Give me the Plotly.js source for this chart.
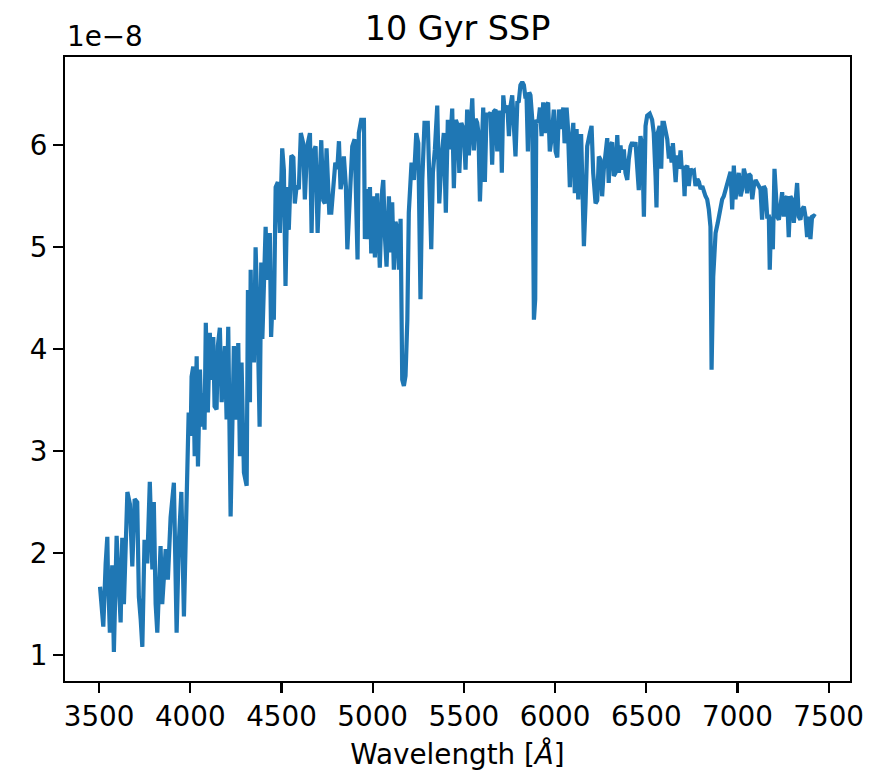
<!DOCTYPE html>
<html>
<head>
<meta charset="utf-8">
<script src="https://cdn.plot.ly/plotly-3.0.1.min.js"></script>
<style>html,body{margin:0;padding:0;background:#fff;}#chart{width:881px;height:771px;}</style>
</head>
<body>
<div id="chart"></div>
<script>
// Wavelength in Angstrom
const wavelength = [
3505,3523,3536,3545,3548,3559,3572,3581,3596,3609,3618,3627,3636,3655,3669,3682,3695,3709,3718,3728,3737,3749,3764,3778,3792,3800,3810,3819,3837,3846,3865,3877,3892,3910,3925,3937,3951,3965,3980,
3991,4002,4007,4016,4024,4035,4042,4053,4062,4069,4078,4085,4096,4107,4115,4126,4133,4144,4151,4162,4172,4181,4190,4199,4208,4221,4230,4239,4252,4263,4272,4281,4294,4309,4316,
4327,4331,4336,4345,4349,4358,4368,4380,4389,4395,4405,4413,4422,4430,4436,4443,4449,4458,4468,
4480,4491,4504,4513,4522,4532,4540,4554,4565,4573,4583,4595,4606,4619,4628,4641,4656,4665,4674,4687,4698,4709,4718,4729,4738,4747,4762,4773,4784,4795,4806,4815,4824,4833,4842,4853,4861,4873,4888,4901,4910,4917,4924,4937,4952,
4957,4966,4974,4985,4992,5003,5012,5025,5039,5052,5058,5067,5076,5089,5098,5107,5116,5125,5135,5144,5153,
5162,5171,5180,5190,5198,5208,5213,5226,5239,5250,5262,5272,5284,5302,5310,5321,5330,5341,5354,
5365,5378,5390,5401,5412,5423,5436,5445,5456,5467,5475,5486,5500,5509,5518,5527,5537,5546,5555,5564,5573,5580,
5588,5597,5606,5615,5624,5637,5646,5655,5664,5674,5683,5692,5701,5708,5716,5725,5738,5747,5756,5765,5774,5783,5793,5801,
5810,5820,5829,5838,5843,5851,5858,5865,5875,5884,5891,5897,5908,5917,5926,5935,5944,5953,5962,5971,5981,5993,6003,
6012,6021,6034,6045,6052,6063,6070,6081,6090,6100,6108,6118,6127,6136,6143,6150,6158,6167,6176,6191,6200,
6209,6222,6231,6240,6249,6258,6267,6277,6286,6294,6304,6313,6322,6331,6341,6350,6359,6368,6377,6386,6396,6404,
6414,6423,6432,6441,6450,6459,6468,6478,6487,6496,6505,6519,6532,6541,6551,6556,6563,
6573,6582,6589,6597,6606,6615,6624,6629,6639,6646,6652,6661,6670,6679,6688,6694,6703,6710,6715,6725,6733,6743,6752,
6761,6770,6780,6789,6798,6807,6816,6825,6834,6843,6852,6858,6867,6874,6880,6892,6907,6916,6925,6934,6944,6953,
6962,6971,6980,6989,6999,7007,7017,7026,7035,7044,7053,7062,7072,7081,7090,7099,7108,7117,7126,7135,7144,7153,7163,7172,
7177,7185,7194,7203,7210,7218,7227,7236,7245,7254,7263,7272,7281,7290,7299,7309,7318,7327,7336,7345,7354,7364,7373,7382,7391,7400,7409,7419,7428
];
// Flux in units of 1e-8
const flux = [
1.67,1.28,1.9,2.16,1.84,1.22,1.88,1.03,2.17,1.5,1.32,2.15,1.5,2.6,2.48,1.87,2.53,2.5,1.57,1.35,1.08,2.13,1.9,2.7,1.84,2.5,1.5,1.22,2.07,1.5,2.04,1.74,2.35,2.69,1.22,2.1,2.6,1.38,2.8,
3.38,3.15,3.73,3.83,2.95,3.93,2.85,3.8,3.24,3.57,3.21,4.26,3.38,4.16,3.7,4.12,3.44,3.41,4.03,4.21,3.48,3.73,4.03,3.31,4.22,2.36,3.31,4.03,3.31,4.06,2.95,3.87,2.79,2.66,4.58,
3.48,4.78,4.19,4.6,3.87,5.0,4.4,3.24,4.85,4.1,4.9,5.2,4.68,5.05,5.14,4.12,4.39,4.29,5.59,
5.64,5.14,5.97,5.76,4.62,5.59,5.17,5.9,5.88,5.43,5.6,5.57,6.12,6.02,5.47,5.99,6.12,5.14,5.93,5.99,5.14,5.57,6.05,5.46,5.43,5.97,5.34,5.34,5.57,5.83,5.77,6.04,5.57,5.67,5.89,5.6,4.98,5.47,5.99,6.06,5.47,4.88,6.12,6.25,6.25,
5.08,5.57,5.08,5.59,4.94,5.5,4.9,5.53,4.8,5.56,5.66,5.11,4.81,5.5,4.95,5.44,4.78,5.25,5.18,4.78,5.28,
3.7,3.64,3.74,4.29,5.34,5.6,5.83,5.66,6.12,6.02,4.49,5.66,6.22,6.22,5.57,4.98,5.73,5.96,6.39,
5.43,5.89,6.12,5.34,6.25,5.96,6.36,5.58,6.25,6.19,5.73,6.22,6.15,5.76,6.35,5.9,6.26,6.46,5.95,6.26,6.22,6.12,
5.45,6.1,6.37,5.64,6.3,6.3,6.32,5.81,6.33,6.35,5.94,6.32,6.32,5.73,6.49,6.32,6.39,6.09,6.39,6.49,6.16,5.89,6.42,6.43,
6.59,6.62,6.59,6.46,6.52,5.94,6.52,6.49,6.25,4.29,4.49,6.25,6.22,6.37,6.09,6.42,6.12,6.39,6.42,5.94,6.07,6.35,5.94,
5.88,6.35,6.16,6.37,6.02,6.37,6.19,5.59,6.05,6.22,5.53,6.16,5.47,6.09,6.09,5.59,5.01,5.43,5.99,6.12,6.19,
5.73,5.43,5.46,5.89,5.86,5.5,5.76,5.89,6.07,5.63,6.0,6.03,5.7,5.73,6.1,5.73,6.0,5.76,5.96,5.73,5.66,5.86,
5.99,6.03,5.99,6.03,5.73,5.56,6.09,5.99,5.3,6.19,6.29,6.31,6.25,6.12,5.69,5.39,6.12,
6.19,5.77,6.22,6.22,6.12,6.06,5.87,5.99,5.83,6.02,5.87,5.64,5.9,5.77,5.95,5.77,5.8,5.5,5.77,5.8,5.6,5.77,5.74,
5.75,5.6,5.67,5.64,5.57,5.6,5.54,5.5,5.47,5.37,5.2,3.8,4.71,4.88,5.14,5.24,5.4,5.47,5.5,5.56,5.62,5.67,
5.74,5.37,5.8,5.47,5.6,5.73,5.5,5.57,5.77,5.7,5.53,5.72,5.7,5.47,5.6,5.66,5.63,5.6,5.57,5.27,5.6,5.57,5.3,5.3,
4.78,5.3,4.98,5.77,5.57,5.3,5.27,5.43,5.54,5.3,5.47,5.5,5.1,5.5,5.47,5.24,5.5,5.63,5.3,5.27,5.37,5.4,5.3,5.1,5.3,5.08,5.3,5.31,5.3
];
const xTicks = [3500,4000,4500,5000,5500,6000,6500,7000,7500];
const yTicks = [1,2,3,4,5,6];
const offsetLabel = '1e\u22128';
const chartTitle = '10 Gyr SSP';
const xLabel = 'Wavelength [<i>\u00C5</i>]';

const FONT = 'DejaVu Sans, sans-serif';
const axisCommon = {
  ticks: 'outside', ticklen: 9.7, tickwidth: 2.2, tickcolor: '#000',
  showline: true, linewidth: 2.2, linecolor: '#000', mirror: true,
  showgrid: false, zeroline: false,
  tickfont: {family: FONT, size: 27.8, color: '#000'}
};

const trace = {
  x: wavelength, y: flux, type: 'scatter', mode: 'lines',
  line: {color: '#1f77b4', width: 4.2, shape: 'linear'},
  hoverinfo: 'skip'
};

const layout = Object.assign({
  width: 881, height: 771,
  margin: {l: 65, r: 31, t: 57, b: 90, pad: 0},
  paper_bgcolor: '#fff', plot_bgcolor: '#fff',
  showlegend: false,
  font: {family: FONT, color: '#000'},
  title: {text: chartTitle, font: {family: FONT, size: 33.4, color: '#000'},
          x: 0.5, xref: 'paper', xanchor: 'center', y: 0.963, yref: 'container', yanchor: 'middle'},
  xaxis: Object.assign({}, axisCommon, {
    range: [3313, 7617], tickmode: 'array', tickvals: xTicks, ticktext: xTicks.map(String),
    title: {text: xLabel, font: {family: FONT, size: 27.8, color: '#000'}, standoff: 12}
  }),
  yaxis: Object.assign({}, axisCommon, {
    range: [0.746, 6.866], tickmode: 'array', tickvals: yTicks, ticktext: yTicks.map(String)
  }),
  annotations: [{
    text: offsetLabel, xref: 'paper', yref: 'paper', x: 0, y: 1,
    xanchor: 'left', yanchor: 'bottom', showarrow: false, yshift: 2,
    font: {family: FONT, size: 27.8, color: '#000'}
  }]
});

Plotly.newPlot('chart', [trace], layout, {displayModeBar: false, staticPlot: true});
</script>
</body>
</html>
